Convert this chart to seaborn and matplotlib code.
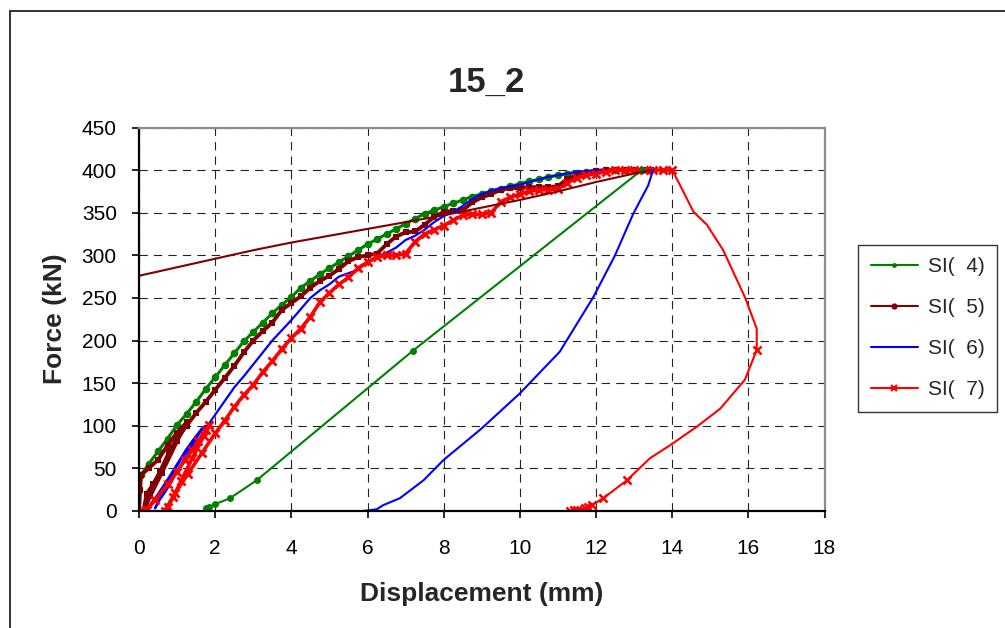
import matplotlib
matplotlib.use("Agg")
import matplotlib.pyplot as plt
from matplotlib.lines import Line2D
from matplotlib.patches import Rectangle
import seaborn as sns

# ---------------- data ----------------
title = "15_2"
x_label = "Displacement (mm)"
y_label = "Force (kN)"
series_names = ["SI(  4)", "SI(  5)", "SI(  6)", "SI(  7)"]
x_ticks = [0, 2, 4, 6, 8, 10, 12, 14, 16, 18]
y_ticks = [0, 50, 100, 150, 200, 250, 300, 350, 400, 450]

# SI(4): loading branch (every reading marked)
si4_load_x = [0, 0, 0.05, 0.25, 0.5, 0.75, 1.0, 1.25, 1.5, 1.75, 2.0, 2.25, 2.5, 2.75,
              3.0, 3.25, 3.5, 3.75, 4.0, 4.25, 4.5, 4.75, 5.0, 5.25, 5.5, 5.75, 6.0,
              6.25, 6.5, 6.75, 7.0, 7.25, 7.5, 7.75, 8.0, 8.25, 8.5, 8.75, 9.0, 9.25,
              9.5, 9.75, 10.0, 10.25, 10.5, 10.75, 11.0, 11.25, 11.5, 11.75, 12.0,
              12.25, 12.5, 12.75, 13.0, 13.2]
si4_load_f = [0, 25, 42, 55, 70, 85, 101, 114, 128, 143, 157, 171, 185, 199,
              210, 221, 232, 242, 251, 262, 270, 278, 285, 292, 299, 306, 313,
              319, 325, 331, 337, 343, 349, 353, 357, 361, 365, 369, 372, 375,
              378, 381, 384, 387, 389, 392, 394, 396, 397, 398, 399,
              400, 400, 400, 400, 400]
# SI(4): unloading branch
si4_unload_x = [13.2, 7.19, 3.09, 2.39, 2.0, 1.85, 1.75, 1.8]
si4_unload_f = [400, 188, 36, 15, 8, 5, 3, 2]

# SI(5): loading branch with an early unload/reload loop
si5_load_x = [0, 0.03, 0.05, 0.25, 0.5, 0.75, 1.0, 1.25, 1.0, 0.6, 0.3, 0.12,
              0.2, 0.38, 0.55, 0.8, 1.0, 1.25, 1.5, 1.75, 2.0, 2.25, 2.5, 2.75,
              3.0, 3.25, 3.5, 3.75, 4.0, 4.25, 4.5, 4.75, 5.0, 5.25, 5.5, 5.75,
              6.0, 6.25, 6.5, 6.75, 7.0, 7.25, 7.5, 7.75, 8.0, 8.25, 8.5, 8.75,
              9.0, 9.25, 9.5, 9.75, 10.0, 10.25, 10.5, 10.75, 11.0, 11.25, 11.5,
              11.75, 12.0, 12.25, 12.5, 12.75, 13.0, 13.25, 13.45]
si5_load_f = [0, 25, 42, 50, 60, 77, 92, 104, 82, 45, 18, 0,
              20, 32, 46, 70, 85, 100, 115, 128, 142, 156, 170, 186,
              200, 211, 221, 236, 244, 252, 262, 270, 276, 284, 293, 298,
              300, 302, 313, 322, 327, 328, 336, 345, 351, 352, 353, 362,
              368, 372, 377, 379, 379, 380, 380, 380, 381, 390, 394,
              397, 399, 400, 400, 400, 400, 400, 400]
si5_unload_x = [13.45, 13.0, 12.0, 11.0, 10.0, 9.0, 8.0, 7.0, 6.0, 5.0, 4.0, 3.0,
                2.0, 1.0, 0.0]
si5_unload_f = [400, 396, 386, 375, 365, 356, 347, 339, 331, 323, 315, 306,
                296, 286, 276]

# SI(6): loading branch with an early unload/reload loop
si6_load_x = [0.2, 0.3, 0.5, 0.75, 1.0, 1.25, 1.5, 1.75, 1.6, 1.2, 0.8, 0.5, 0.42,
              0.6, 0.86, 1.12, 1.38, 1.65, 1.8, 2.0, 2.25, 2.5, 2.75, 3.0, 3.25,
              3.5, 3.75, 4.0, 4.25, 4.5, 4.75, 5.0, 5.25, 5.5, 5.75, 6.0, 6.25,
              6.5, 6.75, 7.0, 7.25, 7.5, 7.75, 8.0, 8.25, 8.5, 8.75, 9.0, 9.25,
              9.5, 9.75, 10.0, 10.25, 10.5, 10.75, 11.0, 11.25, 11.5, 11.75,
              12.0, 12.5, 13.0, 13.5]
si6_load_f = [0, 8, 20, 37, 55, 73, 88, 100, 92, 62, 30, 10, 3,
              20, 42, 62, 80, 97, 100, 113, 129, 145, 158, 172, 186,
              200, 212, 224, 237, 250, 259, 266, 275, 279, 283, 292, 298,
              303, 309, 318, 323, 330, 339, 346, 351, 358, 366, 372, 376,
              379, 381, 383, 386, 389, 392, 394, 396, 398, 399,
              400, 400, 400, 400]
si6_unload_x = [13.5, 13.47, 13.37, 12.98, 12.5, 11.93, 11.05, 10.0, 9.0, 8.0,
                7.47, 6.85, 6.42, 6.24, 5.88]
si6_unload_f = [400, 396, 382, 349, 300, 251, 187, 138, 97, 60,
                36, 15, 7, 2, 0]

# SI(7): loading branch with an early unload/reload loop
si7_load_x = [0, 0.2, 0.42, 0.77, 1.0, 1.21, 1.4, 1.56, 1.75, 1.85, 1.7, 1.4, 1.1,
              0.9, 0.75, 0.68, 0.95, 1.29, 1.65, 2.0, 2.25, 2.5, 2.75, 3.0, 3.25,
              3.5, 3.75, 4.0, 4.25, 4.5, 4.75, 5.0, 5.25, 5.5, 5.75, 6.0, 6.25,
              6.5, 6.75, 7.0, 7.25, 7.5, 7.75, 8.0, 8.25, 8.5, 8.75, 9.0, 9.25,
              9.5, 9.75, 10.0, 10.25, 10.5, 10.75, 11.0, 11.25, 11.5, 11.75,
              12.0, 12.25, 12.5, 12.75, 13.0, 13.25, 13.5, 13.75, 14.0]
si7_load_f = [0, 1, 13, 32, 46, 60, 72, 82, 95, 101, 88, 62, 35,
              16, 5, 0, 21, 44, 68, 91, 106, 122, 136, 148, 163,
              176, 190, 203, 214, 228, 245, 256, 266, 274, 285, 292, 298,
              300, 300, 302, 316, 325, 330, 335, 341, 347, 348, 348, 350,
              363, 368, 372, 375, 377, 377, 378, 385, 391, 394,
              396, 398, 400, 400, 400, 400, 400, 400, 400]
si7_unload_x = [14.0, 14.2, 14.56, 14.91, 15.34, 15.92, 16.22, 16.22, 15.91,
                15.26, 14.65, 13.94, 13.42, 12.81, 12.19, 11.89, 11.78, 11.71,
                11.5, 11.41, 11.33]
si7_unload_f = [400, 383, 351, 336, 306, 250, 214, 189, 154,
                120, 99, 77, 62, 36, 15, 7, 5, 3,
                1.5, 1, 0.5]
# recorded readings on the SI(7) unloading branch
si7_unload_rec_x = [16.22, 12.81, 12.19, 11.89, 11.78, 11.71, 11.5, 11.41, 11.33]
si7_unload_rec_f = [189, 36, 15, 7, 5, 3, 1.5, 1, 0.5]

# ---------------- style ----------------
sns.set_style("white")
plt.rcParams["font.family"] = ["Liberation Sans", "DejaVu Sans"]

W, H = 1005, 628
fig = plt.figure(figsize=(W / 100, H / 100), dpi=100)
fig.patch.set_facecolor("white")

ax_l, ax_r, ax_t, ax_b = 139, 824.5, 127.5, 511
ax = fig.add_axes([ax_l / W, 1 - ax_b / H, (ax_r - ax_l) / W, (ax_b - ax_t) / H])

green, brown, blue, red = "#008000", "#800000", "#0000FF", "#FF0000"
lw = 1.5


def trace(x, y, color, width=lw, **marker_kws):
    """Draw one branch as a connected line through the readings in order."""
    if marker_kws:
        marker_kws.setdefault("markeredgecolor", color)
        marker_kws.setdefault("markerfacecolor", color)
    sns.lineplot(x=x, y=y, sort=False, estimator=None, ax=ax, color=color,
                 linewidth=width, **marker_kws)


# loading branches, densely recorded, drawn with markers on every reading
trace(si4_load_x, si4_load_f, green, width=2.2, marker="o", markersize=5.5,
      markeredgewidth=0)
trace(si5_load_x, si5_load_f, brown, width=2.8, marker="s", markersize=5,
      markeredgewidth=0)
trace(si6_load_x, si6_load_f, blue, width=1.6)
trace(si7_load_x, si7_load_f, red, width=2.6, marker="x", markersize=6,
      markeredgewidth=2.0)

# unloading branches
trace(si4_unload_x, si4_unload_f, green, marker="o", markersize=5, markeredgewidth=0)
trace(si5_unload_x, si5_unload_f, brown)
trace(si6_unload_x, si6_unload_f, blue)
trace(si7_unload_x, si7_unload_f, red)
sns.scatterplot(x=si7_unload_rec_x, y=si7_unload_rec_f, ax=ax, color=red,
                marker="x", s=34, linewidth=1.8)

# axes, ticks, grid
ax.set_xlim(0, 18)
ax.set_ylim(0, 450)
ax.set_xticks(x_ticks)
ax.set_yticks(y_ticks)
ax.set_xticklabels([str(t) for t in x_ticks])
ax.set_yticklabels([str(t) for t in y_ticks])
ax.tick_params(axis="both", direction="out", length=5, width=1.2, colors="black",
               labelsize=15)
ax.tick_params(axis="x", pad=15, bottom=True)
ax.tick_params(axis="y", pad=11, left=True)
ax.grid(True, which="major", color="#222222", linestyle=(0, (7.5, 5.5)), linewidth=0.8)
ax.set_axisbelow(True)
for side in ("left", "bottom"):
    ax.spines[side].set_color("black")
    ax.spines[side].set_linewidth(1.6)
for side in ("top", "right"):
    ax.spines[side].set_color("#8c8c8c")
    ax.spines[side].set_linewidth(1.6)
ax.set_xlabel("")
ax.set_ylabel("")

fig.text((ax_l + ax_r) / 2 / W, 1 - 594 / H, x_label, ha="center", va="center",
         fontsize=19, fontweight="bold")
fig.text(55 / W, 1 - 319 / H, y_label, ha="center", va="center", rotation=90,
         fontsize=19, fontweight="bold")
fig.text(486 / W, 1 - 82 / H, title, ha="center", va="center",
         fontsize=25, fontweight="bold")

# legend
handles = [
    Line2D([], [], color=green, lw=lw, marker="o", markersize=3.5, markeredgewidth=0),
    Line2D([], [], color=brown, lw=lw, marker="o", markersize=4.5, markeredgewidth=0),
    Line2D([], [], color=blue, lw=lw),
    Line2D([], [], color=red, lw=lw, marker="x", markersize=5, markeredgewidth=1.6),
]
leg = fig.legend(handles, series_names, loc="upper left",
                 bbox_to_anchor=(858 / W, 1 - 245 / H), fontsize=15,
                 frameon=True, fancybox=False, shadow=False, handlelength=2.3,
                 handletextpad=0.45, labelspacing=1.05, borderpad=0.6,
                 borderaxespad=0)
leg.get_frame().set_edgecolor("black")
leg.get_frame().set_linewidth(1.0)

# chart frame
fig.add_artist(Rectangle((10 / W, -0.2), 1.5, 1.2 - 11 / H, transform=fig.transFigure,
                         fill=False, edgecolor="#222222", linewidth=1.3))

fig.savefig("out.png", dpi=100, facecolor="white")
